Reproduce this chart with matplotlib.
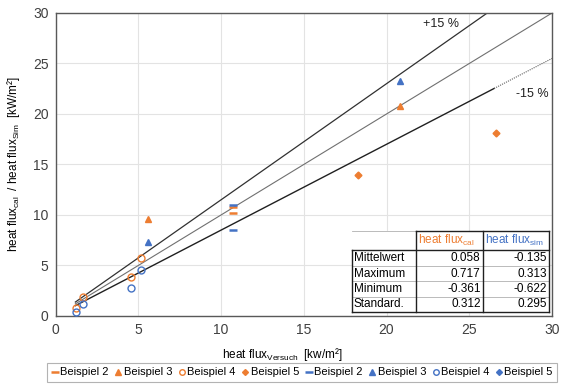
import matplotlib.pyplot as plt
from matplotlib.lines import Line2D

plt.rcParams['font.family'] = ['Liberation Sans', 'DejaVu Sans']

orange = '#ED7D31'
blue = '#4472C4'

# Beispiel data: (heat flux Versuch, heat flux cal / sim)
b2_x = [10.75, 10.75]
b2_cal = [10.2, 10.8]
b2_sim = [11.0, 8.5]

b3_x = [5.6, 20.8]
b3_cal = [9.6, 20.8]
b3_sim = [7.3, 23.3]

b4_x = [1.24, 1.64, 4.55, 5.19]
b4_cal = [0.76, 1.85, 3.86, 5.77]
b4_sim = [0.4, 1.19, 2.77, 4.59]

b5_x = [18.28, 26.6]
b5_cal = [14.0, 18.1]
b5_sim = []

line_x = [1.2, 30]
line_x_solid = [1.2, 26.5]
line_x_dot = [26.5, 30]

stat_names = ['Mittelwert', 'Maximum', 'Minimum', 'Standard.']
stat_cal = ['0.058', '0.717', '-0.361', '0.312']
stat_sim = ['-0.135', '0.313', '-0.622', '0.295']

fig = plt.figure(figsize=(5.63, 3.89), dpi=100)
ax = fig.add_axes([0.0986, 0.1877, 0.882, 0.779])

# reference lines
ax.plot(line_x, line_x, color='#707070', lw=0.8, zorder=2)
ax.plot(line_x, [1.15 * v for v in line_x], color='#303030', lw=0.9, zorder=2)
ax.plot(line_x_solid, [0.85 * v for v in line_x_solid], color='#202020', lw=1.0, zorder=2)
ax.plot(line_x_dot, [0.85 * v for v in line_x_dot], color='#606060', lw=0.8, ls=(0, (1, 1)), zorder=2)
ax.text(23.3, 28.9, '+15 %', fontsize=9, ha='center', va='center', color='#202020')
ax.text(28.8, 22.0, '-15 %', fontsize=9, ha='center', va='center', color='#202020')

# markers
ax.plot(b2_x, b2_cal, ls='none', marker='_', ms=6, mew=1.8, color=orange, zorder=3)
ax.plot(b3_x, b3_cal, ls='none', marker='^', ms=5, color=orange, zorder=3)
ax.plot(b4_x, b4_cal, ls='none', marker='o', ms=5, mfc='none', mew=1.0, color=orange, zorder=3)
ax.plot(b5_x, b5_cal, ls='none', marker='D', ms=3.5, color=orange, zorder=3)
ax.plot(b2_x, b2_sim, ls='none', marker='_', ms=6, mew=1.8, color=blue, zorder=3)
ax.plot(b3_x, b3_sim, ls='none', marker='^', ms=5, color=blue, zorder=3)
ax.plot(b4_x, b4_sim, ls='none', marker='o', ms=5, mfc='none', mew=1.0, color=blue, zorder=3)
ax.plot(b5_x[:len(b5_sim)], b5_sim, ls='none', marker='D', ms=3.5, color=blue, zorder=3)

ax.set_xlim(0, 30)
ax.set_ylim(0, 30)
ax.set_xticks(range(0, 31, 5))
ax.set_yticks(range(0, 31, 5))
ax.grid(True, color='#E3E3E3', lw=0.8)
ax.set_axisbelow(True)
ax.tick_params(length=0, labelsize=10, colors='#404040', pad=5)
for s in ax.spines.values():
    s.set_color('#595959')
    s.set_linewidth(1.0)

ax.set_xlabel(r'heat flux$_{\mathregular{Versuch}}$  [kw/m²]', fontsize=8.5)
ax.xaxis.set_label_coords(0.456, -0.098)
ax.set_ylabel(r'heat flux$_{\mathregular{cal}}$  / heat flux$_{\mathregular{Sim}}$  [kW/m²]', fontsize=8.5)
ax.yaxis.set_label_coords(-0.067, 0.5)

# statistics table
tr = ax.transAxes
col_x = [0.597, 0.726, 0.861, 0.994]
row_y = [0.28, 0.217, 0.165, 0.115, 0.064, 0.013]
ax.add_patch(plt.Rectangle((col_x[0], row_y[-1]), col_x[-1] - col_x[0], row_y[0] - row_y[-1],
                           transform=tr, facecolor='white', edgecolor='none', zorder=4))
for yy in row_y[1:-1]:
    ax.plot([col_x[0], col_x[-1]], [yy, yy], transform=tr, color='#B0B0B0', lw=0.6, zorder=5)
ax.plot([col_x[0], col_x[-1]], [row_y[0], row_y[0]], transform=tr, color='#B0B0B0', lw=0.6, zorder=5)
ax.plot([col_x[1], col_x[-1]], [row_y[0], row_y[0]], transform=tr, color='#202020', lw=1.0, zorder=5)
ax.plot([col_x[0], col_x[-1]], [row_y[1], row_y[1]], transform=tr, color='#202020', lw=1.0, zorder=5)
ax.plot([col_x[0], col_x[-1]], [row_y[-1], row_y[-1]], transform=tr, color='#202020', lw=1.0, zorder=5)
ax.plot([col_x[0], col_x[0]], [row_y[1], row_y[-1]], transform=tr, color='#202020', lw=1.0, zorder=5)
for cx in col_x[1:]:
    ax.plot([cx, cx], [row_y[0], row_y[-1]], transform=tr, color='#202020', lw=1.0, zorder=5)
hy = (row_y[0] + row_y[1]) / 2
ax.text(col_x[1] + 0.004, hy, r'heat flux$_{\mathregular{cal}}$', transform=tr, fontsize=8.5,
        color=orange, va='center', ha='left', zorder=6)
ax.text(col_x[2] + 0.004, hy, r'heat flux$_{\mathregular{sim}}$', transform=tr, fontsize=8.5,
        color=blue, va='center', ha='left', zorder=6)
for i, name in enumerate(stat_names):
    cy = (row_y[i + 1] + row_y[i + 2]) / 2
    ax.text(col_x[0] + 0.004, cy, name, transform=tr, fontsize=8.5, va='center', ha='left', zorder=6)
    ax.text(col_x[2] - 0.005, cy, stat_cal[i], transform=tr, fontsize=8.5, va='center', ha='right', zorder=6)
    ax.text(col_x[3] - 0.005, cy, stat_sim[i], transform=tr, fontsize=8.5, va='center', ha='right', zorder=6)

# legend
handles = []
labels = []
for c in [orange, blue]:
    handles += [
        Line2D([], [], ls='none', marker='_', ms=6, mew=1.8, color=c),
        Line2D([], [], ls='none', marker='^', ms=4, color=c),
        Line2D([], [], ls='none', marker='o', ms=4, mfc='none', mew=1.0, color=c),
        Line2D([], [], ls='none', marker='D', ms=3, color=c),
    ]
    labels += ['Beispiel 2', 'Beispiel 3', 'Beispiel 4', 'Beispiel 5']
leg = fig.legend(handles, labels, ncol=8, loc='upper left', bbox_to_anchor=(47 / 563, 1 - 363 / 389),
                 fontsize=8, frameon=True, fancybox=False, edgecolor='#A0A0A0',
                 handlelength=0.6, handletextpad=0.2, columnspacing=0.55, borderpad=0.4,
                 borderaxespad=0)
leg.get_frame().set_linewidth(0.8)

fig.savefig('out.png', dpi=100)
